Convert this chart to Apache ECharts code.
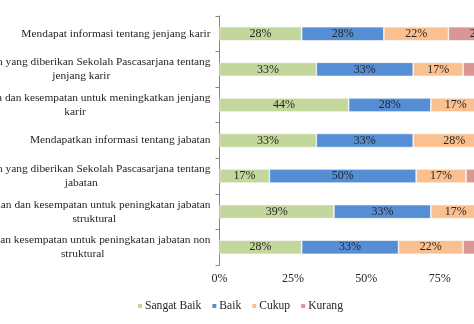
<!DOCTYPE html>
<html>
<head>
<meta charset="utf-8">
<script src="https://cdn.jsdelivr.net/npm/echarts@6/dist/echarts.min.js"></script>
<style>
  html, body { margin: 0; padding: 0; background: #fff; }
  #chart { width: 474px; height: 324px; }
</style>
</head>
<body>
<div id="chart"></div>
<script>
// Survey items (each label line separated by \n)
const categories = [
  'Mendapat informasi tentang jenjang karir',
  'Bimbingan yang diberikan Sekolah Pascasarjana tentang\njenjang karir',
  'Peluang kerja dan kesempatan untuk meningkatkan jenjang\nkarir',
  'Mendapatkan informasi tentang jabatan',
  'Bimbingan yang diberikan Sekolah Pascasarjana tentang\njabatan',
  'Arahan dan kesempatan untuk peningkatan jabatan\nstruktural',
  'Peluang dan kesempatan untuk peningkatan jabatan non\nstruktural'
];

// Percentage of respondents per answer
const sangatBaik = [28, 33, 44, 33, 17, 39, 28];
const baik       = [28, 33, 28, 33, 50, 33, 33];
const cukup      = [22, 17, 17, 28, 17, 17, 22];
const kurang     = [22, 17, 11,  6, 17, 11, 17];

const seriesNames = ['Sangat Baik', 'Baik', 'Cukup', 'Kurang'];
const seriesColors = ['#C3D69B', '#558ED5', '#FAC090', '#D99694'];
const xTicks = [0, 25, 50, 75, 100];

const FONT = '"Liberation Serif", "Times New Roman", serif';
const TEXT = '#262626';
const FS = 11.4;

const chart = echarts.init(document.getElementById('chart'));

const values = [sangatBaik, baik, cukup, kurang];

chart.setOption({
  animation: false,
  textStyle: { fontFamily: FONT },
  grid: {
    left: 219.5, top: 16, width: 293.5, height: 249,
    containLabel: false, outerBoundsMode: 'none'
  },
  legend: {
    left: 131,
    top: 295,
    itemWidth: 6,
    itemHeight: 6,
    itemGap: 9,
    icon: 'rect',
    textStyle: { fontFamily: FONT, fontSize: 11.6, color: TEXT, padding: [0, 0, 0, -3] },
    data: seriesNames
  },
  xAxis: {
    type: 'value',
    min: 0,
    max: 100,
    interval: 25,
    axisLine: { show: false },
    axisTick: { show: false },
    splitLine: { show: false },
    axisLabel: {
      fontFamily: FONT,
      fontSize: 12,
      color: TEXT,
      margin: 8,
      formatter: v => xTicks.includes(v) ? v + '%' : ''
    }
  },
  yAxis: {
    type: 'category',
    inverse: true,
    data: categories,
    axisLine: { show: true, lineStyle: { color: '#868686', width: 1 } },
    axisTick: { show: true, length: 4, lineStyle: { color: '#868686' } },
    axisLabel: {
      margin: 9,
      fontFamily: FONT,
      fontSize: FS,
      color: TEXT,
      lineHeight: 14,
      formatter: v => v.split('\n').map(s => '{c|' + s + '}').join('\n'),
      rich: {
        c: { align: 'center', fontFamily: FONT, fontSize: FS, color: TEXT, lineHeight: 14 }
      }
    }
  },
  series: seriesNames.map((name, i) => ({
    name: name,
    type: 'bar',
    stack: 'total',
    barWidth: 14,
    itemStyle: { color: seriesColors[i], borderColor: '#ffffff', borderWidth: 0.6 },
    label: {
      show: true,
      position: 'inside',
      formatter: p => p.value + '%',
      fontFamily: FONT,
      fontSize: 12,
      color: TEXT
    },
    data: values[i]
  }))
});
</script>
</body>
</html>
